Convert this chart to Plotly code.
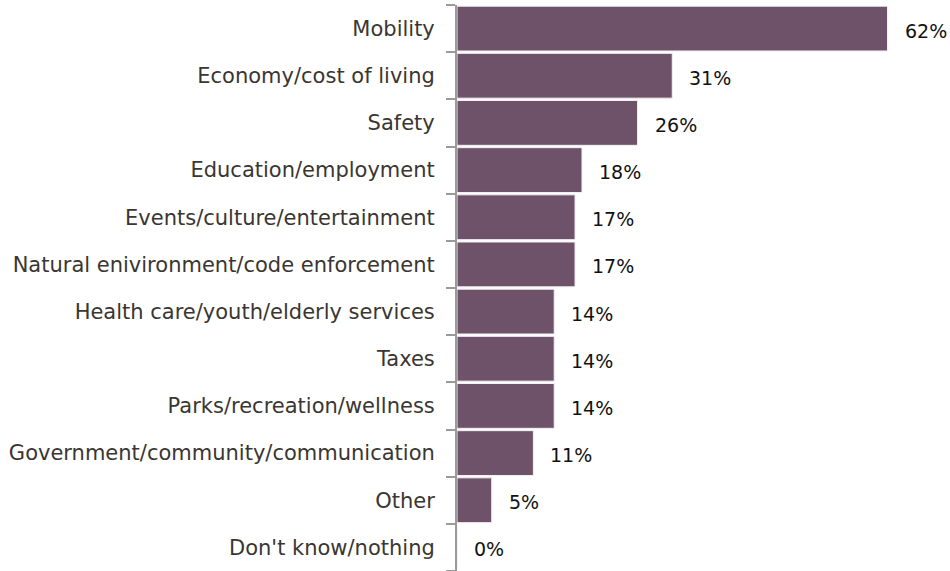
import plotly.graph_objects as go

categories = [
    "Mobility",
    "Economy/cost of living",
    "Safety",
    "Education/employment",
    "Events/culture/entertainment",
    "Natural enivironment/code enforcement",
    "Health care/youth/elderly services",
    "Taxes",
    "Parks/recreation/wellness",
    "Government/community/communication",
    "Other",
    "Don't know/nothing",
]
percent = [62, 31, 26, 18, 17, 17, 14, 14, 14, 11, 5, 0]

bar_color = "#6e5269"
font_family = "DejaVu Sans, Verdana, sans-serif"

fig = go.Figure(
    go.Bar(
        x=percent,
        y=categories,
        orientation="h",
        marker=dict(color=bar_color, line=dict(color="#f3eff2", width=1)),
        hoverinfo="skip",
    )
)

# percentage labels placed just past the end of each bar
for cat, val in zip(categories, percent):
    fig.add_annotation(
        x=val, y=cat, text=f"{val}%", showarrow=False,
        xanchor="left", yanchor="middle", xshift=15, yshift=-2,
        font=dict(family=font_family, size=19, color="#111111"),
    )

fig.update_layout(
    width=950, height=571,
    margin=dict(l=457, r=0, t=5, b=0),
    paper_bgcolor="white", plot_bgcolor="white",
    bargap=0.05,
    showlegend=False,
    font=dict(family=font_family, size=21, color="#3a3632"),
)
fig.update_xaxes(
    range=[0, 71], visible=False, showgrid=False, zeroline=False,
)
fig.update_yaxes(
    autorange="reversed",
    showline=True, linecolor="#9a9a9a", linewidth=2,
    ticks="outside", ticklen=9, tickcolor="#9a9a9a", tickwidth=2,
    tickmode="array", tickvals=categories,
    tickson="boundaries",
    ticklabelstandoff=16,
    showgrid=False,
    tickfont=dict(family=font_family, size=21, color="#3a3632"),
)

fig.write_html("out.html")
